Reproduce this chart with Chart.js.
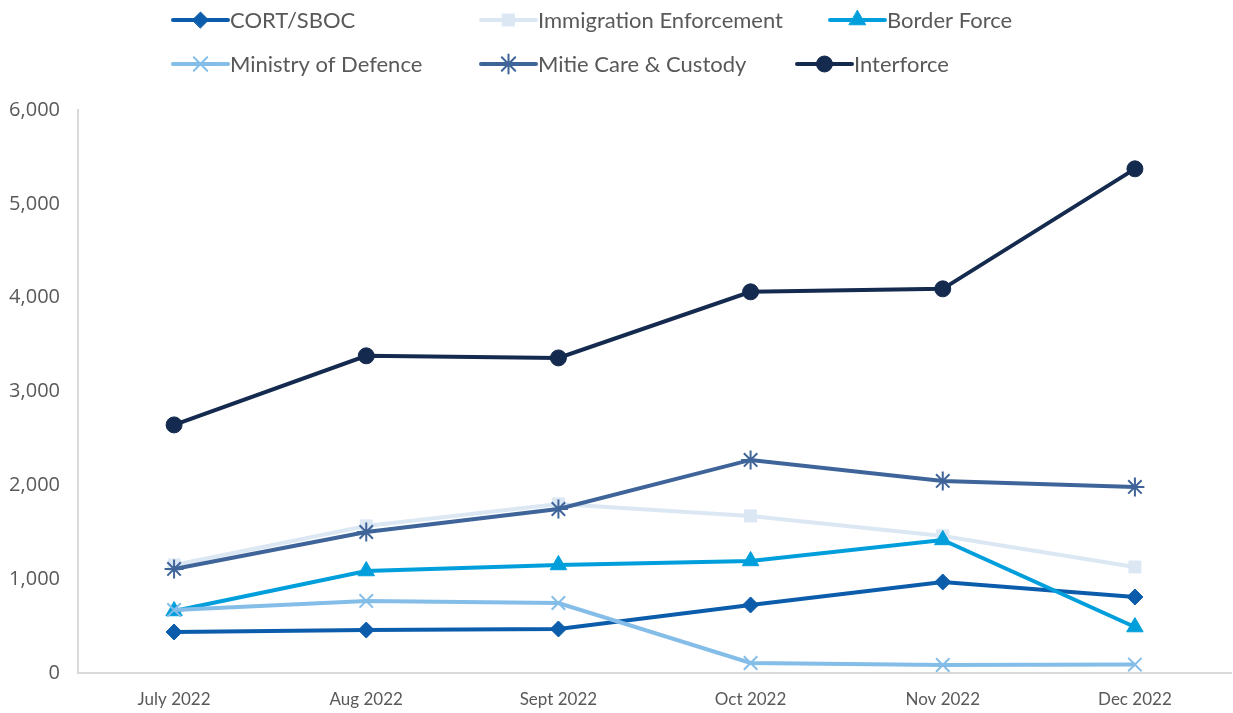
<!DOCTYPE html>
<html>
<head>
<meta charset="utf-8">
<script src="https://cdn.jsdelivr.net/npm/chart.js@4.4.1/dist/chart.umd.min.js"></script>
<style>
  html,body{margin:0;padding:0;background:#fff;}
  #wrap{position:relative;width:1233px;height:713px;}
</style>
</head>
<body>
<div id="wrap"><canvas id="c" width="1233" height="713"></canvas></div>
<script>
const categories = ['July 2022','Aug 2022','Sept 2022','Oct 2022','Nov 2022','Dec 2022'];
const cortSboc = [437, 458, 469, 725, 970, 810];
const immigrationEnforcement = [1151, 1567, 1802, 1674, 1461, 1130];
const borderForce = [661, 1087, 1151, 1194, 1418, 490];
const ministryOfDefence = [672, 768, 746, 107, 85, 90];
const mitieCareCustody = [1109, 1503, 1748, 2271, 2047, 1983];
const interforce = [2644, 3380, 3358, 4062, 4094, 5373];
const yTicks = [0, 1000, 2000, 3000, 4000, 5000, 6000];

const seriesDefs = [
  {label:'CORT/SBOC', data:cortSboc, color:'#0B5CAB', style:'rectRot', r:8, bw:1},
  {label:'Immigration Enforcement', data:immigrationEnforcement, color:'#DCE7F4', style:'rect', r:8.5, bw:1},
  {label:'Border Force', data:borderForce, color:'#009FDB', style:'triangle', r:9.5, bw:1},
  {label:'Ministry of Defence', data:ministryOfDefence, color:'#84BDE8', style:'crossRot', r:9.5, bw:2},
  {label:'Mitie Care & Custody', data:mitieCareCustody, color:'#3E6499', style:'star', r:9.5, bw:2},
  {label:'Interforce', data:interforce, color:'#142A4E', style:'circle', r:8, bw:1}
];

const legendPos = [
  {x:173, y:20}, {x:481, y:20}, {x:830, y:20},
  {x:173, y:64}, {x:481, y:64}, {x:797, y:64}
];

const legendPlugin = {
  id:'customLegend',
  afterDraw(chart){
    const ctx = chart.ctx;
    ctx.save();
    seriesDefs.forEach((s,i)=>{
      const p = legendPos[i];
      const len = 55;
      ctx.strokeStyle = s.color;
      ctx.lineWidth = 4;
      ctx.lineCap = 'round';
      ctx.beginPath();
      ctx.moveTo(p.x, p.y);
      ctx.lineTo(p.x+len, p.y);
      ctx.stroke();
      ctx.fillStyle = s.color;
      ctx.strokeStyle = s.color;
      ctx.lineWidth = s.bw;
      Chart.helpers.drawPoint(ctx, {pointStyle:s.style, radius:s.r, rotation:0, borderWidth:s.bw}, p.x+len/2, p.y);
      ctx.fillStyle = '#595959';
      ctx.font = '22px Lato, sans-serif';
      ctx.textBaseline = 'middle';
      ctx.textAlign = 'left';
      ctx.fillText(s.label, p.x+len+2, p.y+1);
    });
    ctx.restore();
  }
};

const datasets = seriesDefs.map((s,i)=>({
  label:s.label,
  data:s.data,
  borderColor:s.color,
  backgroundColor:s.color,
  borderWidth:4,
  pointStyle:s.style,
  pointRadius:s.r,
  pointHoverRadius:s.r,
  pointBorderWidth:s.bw,
  pointBorderColor:s.color,
  pointBackgroundColor:s.color,
  tension:0,
  clip:false,
  order: 10 - i
}));

new Chart(document.getElementById('c'), {
  type:'line',
  data:{labels:categories, datasets},
  options:{
    responsive:false,
    animation:false,
    layout:{autoPadding:false, padding:{top:110, right:2, left:0, bottom:0}},
    plugins:{legend:{display:false}, tooltip:{enabled:false}},
    scales:{
      x:{
        offset:true,
        grid:{display:false},
        border:{display:true, color:'#D9D9D9', width:2},
        ticks:{color:'#595959', font:{family:'Lato, sans-serif', size:17}, padding:8, maxRotation:0},
        afterFit(scale){ scale.height = 40; }
      },
      y:{
        min:0, max:6000,
        afterBuildTicks(scale){ scale.ticks = yTicks.map(v=>({value:v})); },
        grid:{display:false},
        border:{display:true, color:'#D9D9D9', width:2},
        ticks:{color:'#595959', font:{family:'"Open Sans", sans-serif', size:20}, padding:10,
          callback:(v)=>v.toLocaleString('en-US')},
        afterFit(scale){ scale.width = 78; }
      }
    }
  },
  plugins:[legendPlugin]
});
</script>
</body>
</html>
